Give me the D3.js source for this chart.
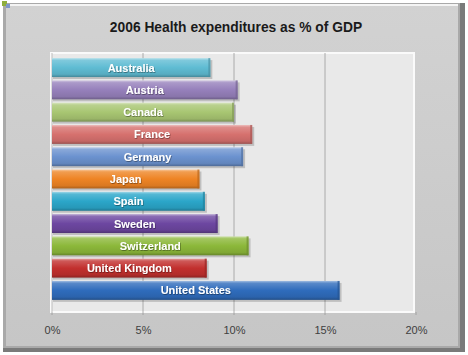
<!DOCTYPE html>
<html><head><meta charset="utf-8">
<script src="https://cdn.jsdelivr.net/npm/d3@7"></script>
<style>html,body{margin:0;padding:0;background:#fff;}svg{display:block;}</style>
</head><body>
<script>
const countries = ["Australia","Austria","Canada","France","Germany","Japan","Spain","Sweden","Switzerland","United Kingdom","United States"];
const values = [8.7,10.2,10.0,11.0,10.5,8.1,8.4,9.1,10.8,8.5,15.8];
const barColors = ["#5fbcd3","#9680bb","#a8c672","#d6716e","#6b92cf","#ee8424","#2ba6c9","#6d47a1","#8cb83a","#c2302e","#2f6cbc"];
const xTicks = [0,5,10,15,20];
const title = "2006 Health expenditures as % of GDP";

(function(){
const W=468,H=355;
const svg=d3.select("body").append("svg").attr("width",W).attr("height",H);
const defs=svg.append("defs");

const og=defs.append("linearGradient").attr("id","outer").attr("x1",0).attr("y1",0).attr("x2",0).attr("y2",1);
og.append("stop").attr("offset",0).attr("stop-color","#d2d2d2");
og.append("stop").attr("offset",1).attr("stop-color","#c6c6c6");
svg.append("rect").attr("x",0).attr("y",0).attr("width",W).attr("height",H).attr("fill","#ffffff");
svg.append("rect").attr("x",3).attr("y",3).attr("width",462).attr("height",349).attr("fill","#7a7a7a");
svg.append("rect").attr("x",3).attr("y",3).attr("width",457).attr("height",345).attr("fill","#a9a9a9");
svg.append("rect").attr("x",6).attr("y",4).attr("width",452).attr("height",342).attr("fill","url(#outer)");
svg.append("line").attr("x1",6).attr("x2",458).attr("y1",5).attr("y2",5).attr("stroke","#f4f4f4").attr("stroke-width",2);
svg.append("rect").attr("x",2).attr("y",1).attr("width",5).attr("height",5).attr("fill","#8fae3c");
svg.append("rect").attr("x",6).attr("y",4).attr("width",4).attr("height",4).attr("fill","#7f96c8");

const sh=defs.append("filter").attr("id","tsh").attr("x","-10%").attr("y","-30%").attr("width","120%").attr("height","160%");
sh.append("feDropShadow").attr("dx",0.6).attr("dy",0.8).attr("stdDeviation",0.5).attr("flood-color","#000").attr("flood-opacity",0.45);

svg.append("text").attr("x",236).attr("y",32).attr("text-anchor","middle")
  .attr("font-family","Liberation Sans, Arial, sans-serif").attr("font-weight","bold").attr("font-size",13.8)
  .attr("fill","#1a1a1a").text(title);

const pL=52,pR=416,pT=53,pB=312;
const x=d3.scaleLinear().domain([0,20]).range([pL,pR]);
const y=d3.scaleBand().domain(countries).range([57,301]).paddingInner(0.15).paddingOuter(0.05);

svg.append("rect").attr("x",pL-1).attr("y",pT).attr("width",pR-pL-1).attr("height",pB-pT)
  .attr("fill","#e9e9e9").attr("stroke","#fafafa").attr("stroke-width",2);
svg.append("line").attr("x1",pL).attr("x2",pL).attr("y1",pT).attr("y2",pB).attr("stroke","#bdbdbd");

svg.append("g").selectAll("line").data(xTicks.slice(1,-1)).join("line")
  .attr("x1",d=>x(d)).attr("x2",d=>x(d)).attr("y1",pT).attr("y2",pB+3)
  .attr("stroke","#9a9a9a").attr("stroke-width",0.8);
svg.append("g").selectAll("line").data([0,20]).join("line")
  .attr("x1",d=>x(d)).attr("x2",d=>x(d)).attr("y1",pB).attr("y2",pB+3)
  .attr("stroke","#9a9a9a").attr("stroke-width",0.8);

const axis=d3.axisBottom(x).tickValues(xTicks).tickFormat(d=>d+"%").tickSize(0).tickPadding(0);
const ag=svg.append("g").attr("transform",`translate(0,${pB+14})`).call(axis);
ag.select(".domain").remove();
ag.selectAll("text").attr("font-family","Liberation Sans, Arial, sans-serif").attr("font-size",11).attr("fill","#404040").attr("dy","0.71em");

barColors.forEach((c,i)=>{
  const g=defs.append("linearGradient").attr("id","bg"+i).attr("x1",0).attr("y1",0).attr("x2",0).attr("y2",1);
  const col=d3.color(c);
  g.append("stop").attr("offset",0).attr("stop-color",d3.interpolateRgb(c,"#fff")(0.55));
  g.append("stop").attr("offset",0.12).attr("stop-color",d3.interpolateRgb(c,"#fff")(0.2));
  g.append("stop").attr("offset",0.5).attr("stop-color",c);
  g.append("stop").attr("offset",0.85).attr("stop-color",col.darker(0.25).formatHex());
  g.append("stop").attr("offset",1).attr("stop-color",col.darker(0.9).formatHex());
});

const bars=svg.append("g").selectAll("g").data(countries).join("g");
bars.append("rect").attr("x",x(0)+1).attr("y",d=>y(d)+2).attr("width",(d,i)=>x(values[i])-x(0)+1).attr("height",y.bandwidth())
  .attr("fill","#000").attr("opacity",0.18);
bars.append("rect").attr("x",x(0)).attr("y",d=>y(d)).attr("width",(d,i)=>x(values[i])-x(0)).attr("height",y.bandwidth())
  .attr("fill",(d,i)=>`url(#bg${i})`);
bars.append("rect").attr("x",(d,i)=>x(values[i])-2).attr("y",d=>y(d)).attr("width",2).attr("height",y.bandwidth())
  .attr("fill",(d,i)=>d3.color(barColors[i]).darker(0.7).formatHex()).attr("opacity",0.7);
bars.append("text").attr("x",(d,i)=>(x(0)+x(values[i]))/2).attr("y",d=>y(d)+y.bandwidth()/2+4)
  .attr("text-anchor","middle").attr("font-family","Liberation Sans, Arial, sans-serif").attr("font-weight","bold")
  .attr("font-size",11).attr("fill","#ffffff").attr("filter","url(#tsh)").text(d=>d);
})();
</script>
</body></html>
